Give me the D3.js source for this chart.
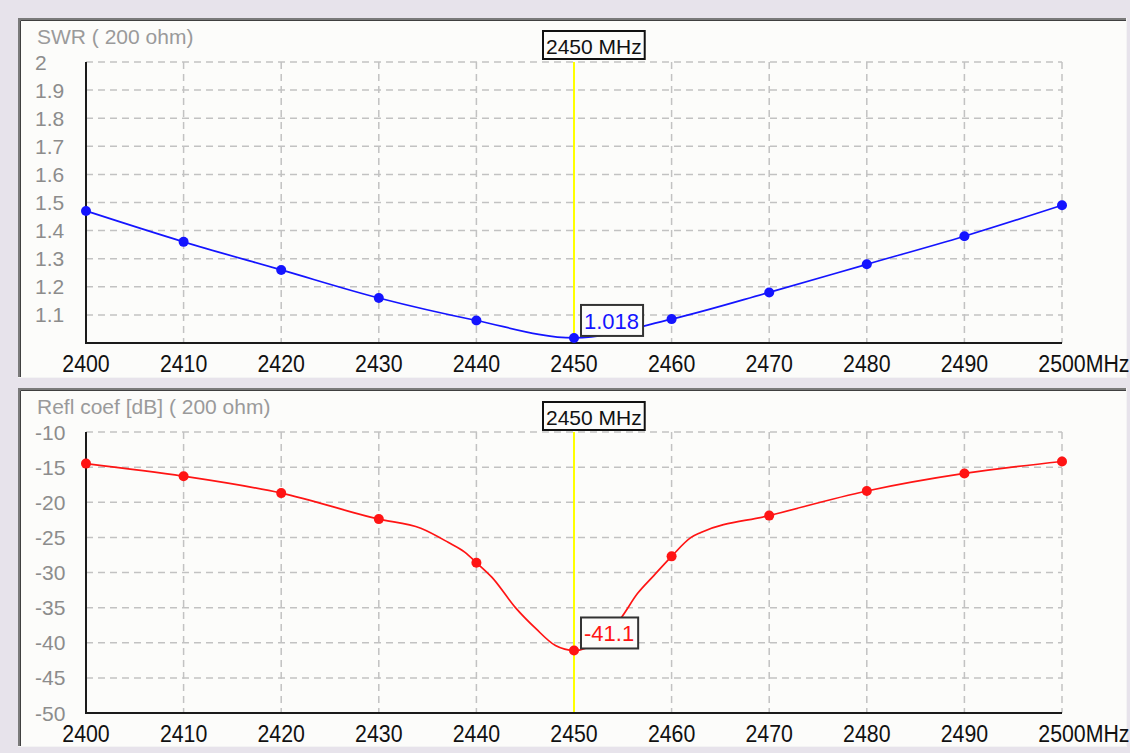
<!DOCTYPE html>
<html><head><meta charset="utf-8">
<script src="https://cdn.jsdelivr.net/npm/d3@7"></script>
<style>
html,body{margin:0;padding:0;background:#e7e3eb;}
svg{display:block;}
text{font-family:"Liberation Sans",Arial,sans-serif;}
</style>
</head><body>
<svg id="c" width="1130" height="753"></svg>
<script>
// ---- data ----
const freqs = [2400,2410,2420,2430,2440,2450,2460,2470,2480,2490,2500];
const swr   = [1.47,1.36,1.26,1.16,1.08,1.018,1.085,1.18,1.28,1.38,1.49];
const reflDb = [-14.5,-16.3,-18.7,-22.4,-28.6,-41.1,-27.7,-21.9,-18.4,-15.9,-14.2];
// extra readings of the reflection trace between the markers
const reflTraceFreq = [2400,2410,2420,2430,2434.3,2437.1,2438.8,2440,2441.6,2444,2446.1,2448.1,2450,2454.8,2456.5,2458.2,2460,2462,2463,2470,2480,2490,2500];
const reflTraceDb   = [-14.5,-16.3,-18.7,-22.4,-23.7,-25.7,-27.1,-28.6,-30.7,-35.0,-38.0,-40.4,-41.1,-36.5,-33.0,-30.4,-27.7,-25.0,-24.3,-21.9,-18.4,-15.9,-14.2];
const swrTicks = [1.1,1.2,1.3,1.4,1.5,1.6,1.7,1.8,1.9,2];
const dbTicks  = [-10,-15,-20,-25,-30,-35,-40,-45,-50];
const xTicks   = [2400,2410,2420,2430,2440,2450,2460,2470,2480,2490,2500];
const markerFreq = 2450;
const swrTitle = "SWR ( 200 ohm)";
const reflTitle = "Refl coef [dB] ( 200 ohm)";

const svg = d3.select("#c");
const x = d3.scaleLinear().domain([2400,2500]).range([86,1062]);

function panel(cfg){
  const g = svg.append("g");
  // panel frame
  g.append("rect").attr("x",cfg.px).attr("y",cfg.py).attr("width",cfg.pw).attr("height",cfg.ph)
    .attr("fill","#fcfcfa");
  g.append("path").attr("d",`M${cfg.px+1},${cfg.py+cfg.ph}V${cfg.py+1}H${cfg.px+cfg.pw}`)
    .attr("fill","none").attr("stroke","#7a7a7a").attr("stroke-width",2);
  g.append("path").attr("d",`M${cfg.px+2.5},${cfg.py+cfg.ph-1}V${cfg.py+2.5}H${cfg.px+cfg.pw-1}`)
    .attr("fill","none").attr("stroke","#404040").attr("stroke-width",1);
  g.append("path").attr("d",`M${cfg.px},${cfg.py+cfg.ph-0.5}H${cfg.px+cfg.pw-0.5}V${cfg.py}`)
    .attr("fill","none").attr("stroke","#f4f4f4").attr("stroke-width",1);

  const y = d3.scaleLinear().domain(cfg.yDomain).range([cfg.yBottom,cfg.yTop]);

  // title
  g.append("text").attr("x",37).attr("y",cfg.titleY).attr("font-size",21).attr("fill","#9a9a9a").text(cfg.title);

  // grid
  g.selectAll(".hg").data(cfg.yTicks).join("line")
    .attr("x1",x(2400)).attr("x2",x(2500)).attr("y1",d=>y(d)).attr("y2",d=>y(d))
    .attr("stroke","#c2c2c2").attr("stroke-width",1.5).attr("stroke-dasharray","7,5");
  g.selectAll(".vg").data(xTicks.filter(d=>d>2400)).join("line")
    .attr("x1",d=>x(d)).attr("x2",d=>x(d)).attr("y1",cfg.yTop).attr("y2",cfg.yBottom)
    .attr("stroke","#c2c2c2").attr("stroke-width",1.5).attr("stroke-dasharray","7,5");

  // y labels
  g.selectAll(".yl").data(cfg.yTicks).join("text")
    .attr("x",35).attr("y",d=>y(d)).attr("dy","0.36em").attr("font-size",21).attr("fill","#8c8c8c")
    .text(d=>cfg.fmt(d));

  // x labels
  xTicks.forEach(d=>{
    const t = g.append("text").attr("font-size",24.5).attr("fill","#111")
      .attr("text-anchor","middle")
      .attr("transform",`translate(${x(d)},${cfg.yBottom+29}) scale(0.87,1)`)
      .text(d);
    if(d===2500){
      const w = t.node().getComputedTextLength();
      g.append("text").attr("font-size",24.5).attr("fill","#111")
        .attr("transform",`translate(${x(d)+w*0.87/2},${cfg.yBottom+29}) scale(0.87,1)`)
        .text("MHz");
    }
  });

  // cursor line
  g.append("line").attr("x1",x(markerFreq)).attr("x2",x(markerFreq))
    .attr("y1",cfg.yTop).attr("y2",cfg.yBottom).attr("stroke","#ffff00").attr("stroke-width",2);

  // axes
  g.append("path").attr("d",`M${x(2400)},${cfg.yTop}V${cfg.yBottom}H${x(2500)}`)
    .attr("fill","none").attr("stroke","#1a1a1a").attr("stroke-width",2);

  // trace
  const line = d3.line().x(d=>x(d[0])).y(d=>y(d[1])).curve(d3.curveMonotoneX);
  g.append("path").datum(d3.zip(cfg.traceX,cfg.traceY)).attr("d",line)
    .attr("fill","none").attr("stroke",cfg.color).attr("stroke-width",1.7);
  g.selectAll(".pt").data(d3.zip(cfg.markX,cfg.markY)).join("circle")
    .attr("cx",d=>x(d[0])).attr("cy",d=>y(d[1])).attr("r",5).attr("fill",cfg.color);

  // frequency label
  const fl = g.append("g");
  const ft = fl.append("text").attr("font-size",21).attr("fill","#111")
    .attr("x",x(markerFreq)-28).attr("y",cfg.freqBoxTop+23).text(markerFreq+" MHz");
  const fw = ft.node().getComputedTextLength();
  fl.insert("rect","text").attr("x",x(markerFreq)-31).attr("y",cfg.freqBoxTop)
    .attr("width",fw+6).attr("height",28).attr("fill","#fcfcfa").attr("stroke","#111").attr("stroke-width",2);

  // value label
  const idx = cfg.markX.indexOf(markerFreq);
  const vy = y(cfg.markY[idx]);
  const vl = g.append("g");
  const vt = vl.append("text").attr("font-size",22).attr("fill",cfg.color)
    .attr("x",x(markerFreq)+10).attr("y",vy-9).text(cfg.valueFmt(cfg.markY[idx]));
  const vw = vt.node().getComputedTextLength();
  vl.insert("rect","text").attr("x",x(markerFreq)+7).attr("y",vy-33)
    .attr("width",vw+7).attr("height",31).attr("fill","#fcfcfa").attr("stroke","#333").attr("stroke-width",2);
}

panel({px:18,py:18,pw:1109,ph:360,yTop:62,yBottom:343,yDomain:[1,2],yTicks:swrTicks,
  fmt:d=>d3.format("")(d), title:swrTitle, titleY:44, color:"#1414ff",
  traceX:freqs, traceY:swr, markX:freqs, markY:swr, freqBoxTop:31, valueFmt:d=>d.toFixed(3)});
panel({px:18,py:388,pw:1109,ph:359,yTop:432,yBottom:713,yDomain:[-50,-10],yTicks:dbTicks,
  fmt:d=>d, title:reflTitle, titleY:414, color:"#ff1414",
  traceX:reflTraceFreq, traceY:reflTraceDb, markX:freqs, markY:reflDb, freqBoxTop:402, valueFmt:d=>d.toFixed(1)});
</script>
</body></html>
